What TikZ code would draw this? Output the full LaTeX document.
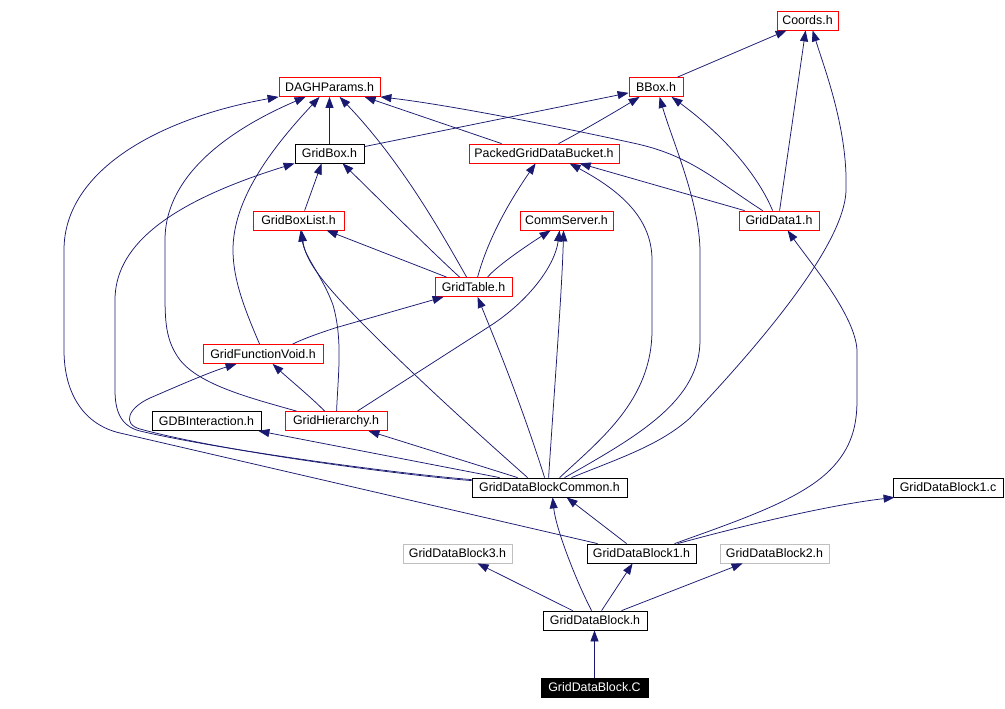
\documentclass[tikz,border=0pt]{standalone}
\usepackage{fontspec}
\setmainfont{Liberation Sans}
\usetikzlibrary{arrows.meta}
\definecolor{edgec}{RGB}{25,25,112}
\definecolor{grayb}{RGB}{191,191,191}
\begin{document}
\begin{tikzpicture}[x=1pt,y=-1pt,
  box/.style={draw, line width=0.8pt, minimum height=19pt, inner sep=0pt, font=\fontsize{12.4}{14}\selectfont, fill=white},
  redbox/.style={box, draw=red},
  blackbox/.style={box, draw=black},
  graybox/.style={box, draw=grayb},
  mainbox/.style={box, draw=black, fill=black, text=white},
  edge/.style={draw=edgec, line width=0.75pt, -{Triangle[length=11pt,width=8pt]}}
]
\useasboundingbox (0,0) rectangle (1005,709);
% nodes
\node[redbox, minimum width=61pt] (coords) at (807.5,20.5) {Coords.h};
\node[redbox, minimum width=101pt] (dagh) at (329.5,87) {DAGHParams.h};
\node[redbox, minimum width=54pt] (bbox) at (656,87) {BBox.h};
\node[blackbox, minimum width=69pt] (gridbox) at (329.5,153.5) {GridBox.h};
\node[redbox, minimum width=150pt] (pgdb) at (544,153.5) {PackedGridDataBucket.h};
\node[redbox, minimum width=91pt] (gbl) at (298.5,220.5) {GridBoxList.h};
\node[redbox, minimum width=93pt] (comm) at (566.5,220.5) {CommServer.h};
\node[redbox, minimum width=80pt] (gd1) at (779,220.5) {GridData1.h};
\node[redbox, minimum width=77pt] (gt) at (473.5,287) {GridTable.h};
\node[redbox, minimum width=120pt] (gfv) at (263,354) {GridFunctionVoid.h};
\node[blackbox, minimum width=109pt] (gdbi) at (206.5,421) {GDBInteraction.h};
\node[redbox, minimum width=102pt] (gh) at (336,421) {GridHierarchy.h};
\node[blackbox, minimum width=155pt] (gdbc) at (549.5,487.5) {GridDataBlockCommon.h};
\node[blackbox, minimum width=110pt] (gdb1c) at (948,487.5) {GridDataBlock1.c};
\node[graybox, minimum width=109pt] (gdb3) at (457.5,553.5) {GridDataBlock3.h};
\node[blackbox, minimum width=109pt] (gdb1h) at (641.5,553.5) {GridDataBlock1.h};
\node[graybox, minimum width=109pt] (gdb2) at (774.5,553.5) {GridDataBlock2.h};
\node[blackbox, minimum width=104pt] (gdb) at (595,620.5) {GridDataBlock.h};
\node[mainbox, minimum width=107pt] (gdbC) at (594.5,687.5) {GridDataBlock.C};
% edges
\draw[edge] (gdbC.north) -- (gdbC.north |- gdb.south);
\draw[edge] ([xshift=30pt]gdb.north west) -- ([xshift=75pt]gdb3.south west);
\draw[edge] ([xshift=59pt]gdb.north west) -- ([xshift=46pt]gdb1h.south west);
\draw[edge] ([xshift=79pt]gdb.north west) -- ([xshift=23pt]gdb2.south west);
\draw[edge] ([xshift=49pt]gdb.north west) .. controls (578,585) and (556,530) .. ([xshift=81pt]gdbc.south west);
\draw[edge] ([xshift=40pt]gdb1h.north west) -- ([xshift=95pt]gdbc.south west);
\draw[edge] ([xshift=91pt]gdb1h.north west) .. controls (720,532) and (820,506) .. ([xshift=2pt]gdb1c.south west);
\draw[edge] ([xshift=88pt]gdb1h.north west) .. controls (740,520) and (800,500) .. (830,470) .. controls (852,448) and (857,425) .. (857,400) -- (857,350) .. controls (855,315) and (810,262) .. ([xshift=49pt]gd1.south west);
\draw[edge] ([xshift=11pt]gdb1h.north west) -- (120,433) .. controls (85,425) and (64,395) .. (64,350) -- (64,250) .. controls (64,170) and (160,118) .. (dagh.south west);
\draw[edge] ([yshift=-2pt]gdbc.north west) .. controls (400,474) and (220,450) .. (140,431) .. controls (120,426) and (115,410) .. (115,390) -- (115,300) .. controls (115,250) and (160,205) .. (gridbox.south west);
\draw[edge] ([yshift=-3pt]gdbc.north west) .. controls (400,475) and (220,451) .. (140,429) .. controls (122,424) and (128,408) .. (150,398) .. controls (180,385) and (210,372) .. ([xshift=34pt]gfv.south west);
\draw[edge] ([xshift=28pt]gdbc.north west) -- ([xshift=-3pt]gdbi.south east);
\draw[edge] ([xshift=46pt]gdbc.north west) -- ([xshift=-19pt]gh.south east);
\draw[edge] ([xshift=56pt]gdbc.north west) .. controls (510,462) and (400,365) .. (340,300) .. controls (318,276) and (305,258) .. ([xshift=49pt]gbl.south west);
\draw[edge] ([xshift=52pt]gh.north west) .. controls (338,375) and (343,340) .. (333,305) .. controls (322,275) and (305,258) .. ([xshift=48pt]gbl.south west);
\draw[edge] ([xshift=73pt]gdbc.north west) .. controls (520,400) and (495,340) .. ([xshift=43pt]gt.south west);
\draw[edge] ([xshift=77pt]gdbc.north west) .. controls (555,380) and (562,290) .. ([xshift=44pt]comm.south west);
\draw[edge] ([xshift=-30pt]gh.north east) -- (490,326) .. controls (530,300) and (555,265) .. ([xshift=40pt]comm.south west);
\draw[edge] ([xshift=53pt]gt.north west) .. controls (495,268) and (520,250) .. ([xshift=31pt]comm.south west);
\draw[edge] ([xshift=88pt]gdbc.north west) .. controls (600,440) and (652,400) .. (652,330) -- (652,260) .. controls (652,215) and (615,188) .. ([xshift=101pt]pgdb.south west);
\draw[edge] ([xshift=43pt]gt.north west) .. controls (485,250) and (500,215) .. ([xshift=67pt]pgdb.south west);
\draw[edge] ([xshift=6pt]gd1.north west) -- ([xshift=111pt]pgdb.south west);
\draw[edge] ([xshift=93pt]gdbc.north west) .. controls (640,435) and (700,400) .. (700,340) -- (700,250) .. controls (699,200) and (672,140) .. ([xshift=31pt]bbox.south west);
\draw[edge] ([xshift=100pt]gdbc.north west) .. controls (620,458) and (660,445) .. (690,418) .. controls (740,365) and (845,250) .. (846,190) .. controls (848,130) and (825,70) .. ([xshift=36pt]coords.south west);
\draw[edge] ([xshift=34pt]gd1.north west) .. controls (760,180) and (730,140) .. ([xshift=43pt]bbox.south west);
\draw[edge] ([xshift=24pt]gd1.north west) .. controls (715,180) and (690,155) .. (633,143) .. controls (560,127) and (450,105) .. (dagh.south east);
\draw[edge] ([xshift=41pt]gd1.north west) -- ([xshift=29pt]coords.south west);
\draw[edge] ([xshift=49pt]bbox.north west) -- ([xshift=10pt]coords.south west);
\draw[edge] ([xshift=90pt]pgdb.north west) .. controls (575,135) and (610,115) .. ([xshift=11pt]bbox.south west);
\draw[edge] ([xshift=33pt]pgdb.north west) -- ([xshift=86pt]dagh.south west);
\draw[edge] ([yshift=-3pt]gridbox.north east) -- ([yshift=4pt]bbox.south west);
\draw[edge] (gridbox.north) -- (dagh.south);
\draw[edge] ([xshift=52pt]gbl.north west) -- ([xshift=27pt]gridbox.south west);
\draw[edge] ([xshift=25pt]gt.north west) .. controls (430,250) and (380,200) .. ([xshift=48pt]gridbox.south west);
\draw[edge] ([xshift=12pt]gt.north west) -- ([xshift=74pt]gbl.south west);
\draw[edge] ([xshift=32pt]gt.north west) .. controls (440,230) and (400,160) .. ([xshift=61pt]dagh.south west);
\draw[edge] ([xshift=90pt]gfv.north west) .. controls (305,338) and (320,333) .. (335,328) -- ([xshift=9pt]gt.south west);
\draw[edge] ([xshift=57pt]gfv.north west) .. controls (245,310) and (233,280) .. (233,250) .. controls (233,200) and (270,150) .. ([xshift=41pt]dagh.south west);
\draw[edge] ([xshift=40pt]gh.north west) .. controls (312,398) and (290,380) .. ([xshift=70pt]gfv.south west);
\draw[edge] ([xshift=12pt]gh.north west) .. controls (250,398) and (200,385) .. (180,360) .. controls (165,340) and (165,320) .. (165,290) -- (165,240) .. controls (165,170) and (240,125) .. ([xshift=27pt]dagh.south west);
\end{tikzpicture}
\end{document}
